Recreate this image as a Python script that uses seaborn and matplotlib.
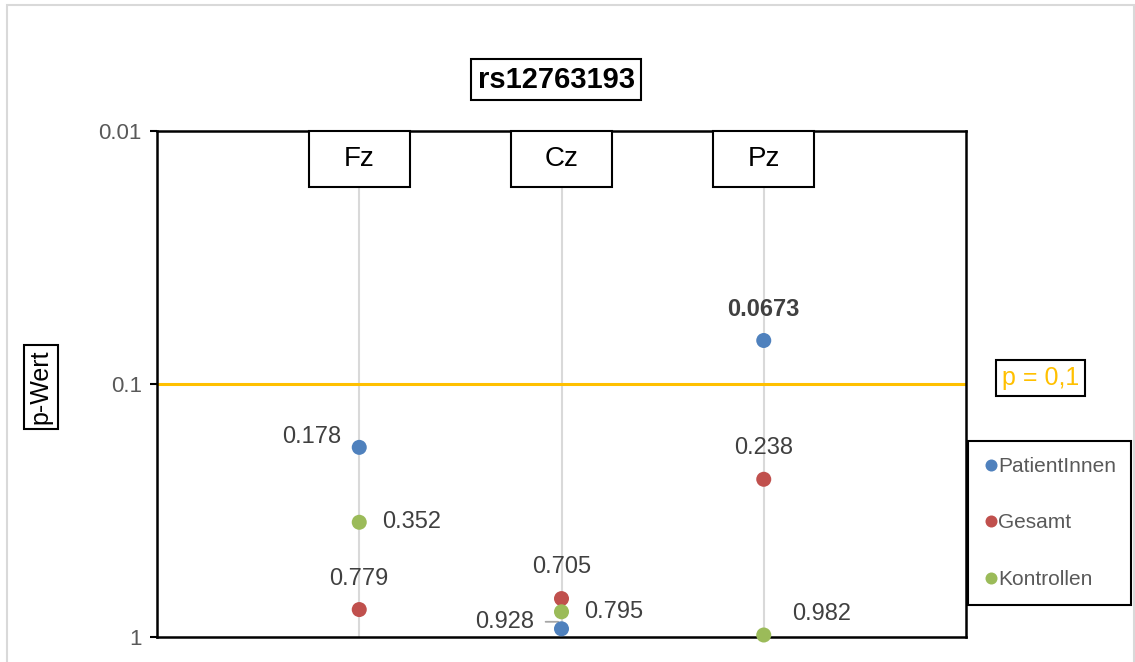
import matplotlib
matplotlib.use('Agg')
import matplotlib.pyplot as plt
import matplotlib.transforms as mtransforms
from matplotlib.patches import Rectangle
import seaborn as sns
import pandas as pd

channels = ['Fz', 'Cz', 'Pz']
groups = ['PatientInnen', 'Gesamt', 'Kontrollen']
p_patient = [0.178, 0.928, 0.0673]
p_gesamt = [0.779, 0.705, 0.238]
p_kontrollen = [0.352, 0.795, 0.982]
threshold = 0.1
y_ticks = [0.01, 0.1, 1]
y_ticklabels = ['0.01', '0.1', '1']

colors = {'PatientInnen': '#4F81BD', 'Gesamt': '#C0504D', 'Kontrollen': '#9BBB59'}

# label offsets in pixels (dx, dy up) relative to each point
label_offsets = {
    ('Fz', 'PatientInnen'): (-48, 10),
    ('Fz', 'Gesamt'): (0, 31),
    ('Fz', 'Kontrollen'): (52, 0),
    ('Cz', 'PatientInnen'): (-57, 7),
    ('Cz', 'Gesamt'): (0, 32),
    ('Cz', 'Kontrollen'): (52, 0),
    ('Pz', 'PatientInnen'): (0, 31),
    ('Pz', 'Gesamt'): (0, 31),
    ('Pz', 'Kontrollen'): (58, 21),
}

rows = []
for g, vals in zip(groups, [p_patient, p_gesamt, p_kontrollen]):
    for i, (ch, v) in enumerate(zip(channels, vals)):
        rows.append({'pos': i, 'Kanal': ch, 'Gruppe': g, 'p': v})
df = pd.DataFrame(rows)

sns.set_theme(style='white')
plt.rcParams['font.family'] = ['Liberation Sans', 'DejaVu Sans']

W, H = 1135, 662
fig = plt.figure(figsize=(W / 100, H / 100), dpi=100)
ax = fig.add_axes([157 / W, (H - 637) / H, (966 - 157) / W, (637 - 131) / H])

# outer chart border
fig.patches.append(Rectangle((7 / W, -0.1), (1134 - 7) / W, (H - 4.5) / H + 0.1,
                             transform=fig.transFigure, fill=False,
                             edgecolor='#D9D9D9', linewidth=1.5))

for i in range(len(channels)):
    ax.axvline(i, color='#D9D9D9', linewidth=1.5, zorder=0)
ax.axhline(threshold, color='#FFC000', linewidth=2.2, zorder=1)

sns.scatterplot(data=df, x='pos', y='p', hue='Gruppe', hue_order=groups,
                palette=colors, s=117, linewidth=0, ax=ax, zorder=3, clip_on=False)

ax.set_yscale('log')
ax.set_ylim(1, 0.01)
ax.set_xlim(-1, 3)
ax.set_yticks(y_ticks)
ax.set_yticklabels(y_ticklabels)
ax.minorticks_off()
ax.set_xticks([])
ax.tick_params(axis='y', which='major', left=True, length=5, width=1.5,
               color='black', labelsize=16, labelcolor='#595959', pad=6)
ax.set_xlabel('')
ax.set_ylabel('')
for sp in ax.spines.values():
    sp.set_visible(True)
    sp.set_color('black')
    sp.set_linewidth(1.8)

# data labels
for _, r in df.iterrows():
    dx, dy = label_offsets[(r['Kanal'], r['Gruppe'])]
    bold = r['p'] < threshold
    txt = f"{r['p']:g}"
    if (r['Kanal'], r['Gruppe']) == ('Cz', 'PatientInnen'):
        ax.annotate(txt, xy=(r['pos'], r['p']), xytext=(dx, dy), textcoords='offset pixels',
                    ha='center', va='center', fontsize=17, color='#404040',
                    arrowprops=dict(arrowstyle='-', color='#A6A6A6', lw=1.3,
                                    connectionstyle='angle,angleA=0,angleB=115',
                                    shrinkA=6, shrinkB=3),
                    annotation_clip=False, zorder=2)
    else:
        ax.annotate(txt, xy=(r['pos'], r['p']), xytext=(dx, dy), textcoords='offset pixels',
                    ha='center', va='center', fontsize=17, color='#404040',
                    fontweight='bold' if bold else 'normal',
                    annotation_clip=False, zorder=4)

# channel label boxes at top of plot
blend = mtransforms.blended_transform_factory(ax.transData, ax.transAxes)
box_w = 100 / 201
box_h = 56 / 506
for i, ch in enumerate(channels):
    ax.add_patch(Rectangle((i - box_w / 2, 1 - box_h), box_w, box_h, transform=blend,
                           facecolor='white', edgecolor='black', linewidth=1.5,
                           zorder=5, clip_on=False))
    ax.text(i, 1 - box_h / 2, ch, transform=blend, ha='center', va='center',
            fontsize=20, color='black', zorder=6)

# title
fig.text((468 + 644) / 2 / W, (H - 79.5) / H, 'rs12763193', ha='center', va='center',
         fontsize=21, fontweight='bold', color='black',
         bbox=dict(boxstyle='square,pad=0.22', facecolor='white', edgecolor='black', linewidth=1.5))

# y label
fig.text(40.5 / W, (H - 387) / H, 'p-Wert', rotation=90, ha='center', va='center',
         fontsize=18, color='black',
         bbox=dict(boxstyle='square,pad=0.2', facecolor='white', edgecolor='black', linewidth=1.5))

# threshold label
fig.text(1040.5 / W, (H - 378) / H, 'p = 0,1', ha='center', va='center',
         fontsize=18, color='#FFC000',
         bbox=dict(boxstyle='square,pad=0.25', facecolor='white', edgecolor='black', linewidth=1.5))

# legend
handles, labels = ax.get_legend_handles_labels()
leg = ax.legend(handles, labels, loc='center', bbox_to_anchor=(1049.5 / W, (H - 523) / H),
                bbox_transform=fig.transFigure, frameon=True, fancybox=False, framealpha=1,
                edgecolor='black', fontsize=15, labelspacing=1.8, handletextpad=0.0,
                handlelength=0.7, borderpad=0.75, borderaxespad=0, markerscale=0.8)
leg.get_frame().set_linewidth(1.5)
for t in leg.get_texts():
    t.set_color('#595959')

fig.savefig('out.png', dpi=100)
